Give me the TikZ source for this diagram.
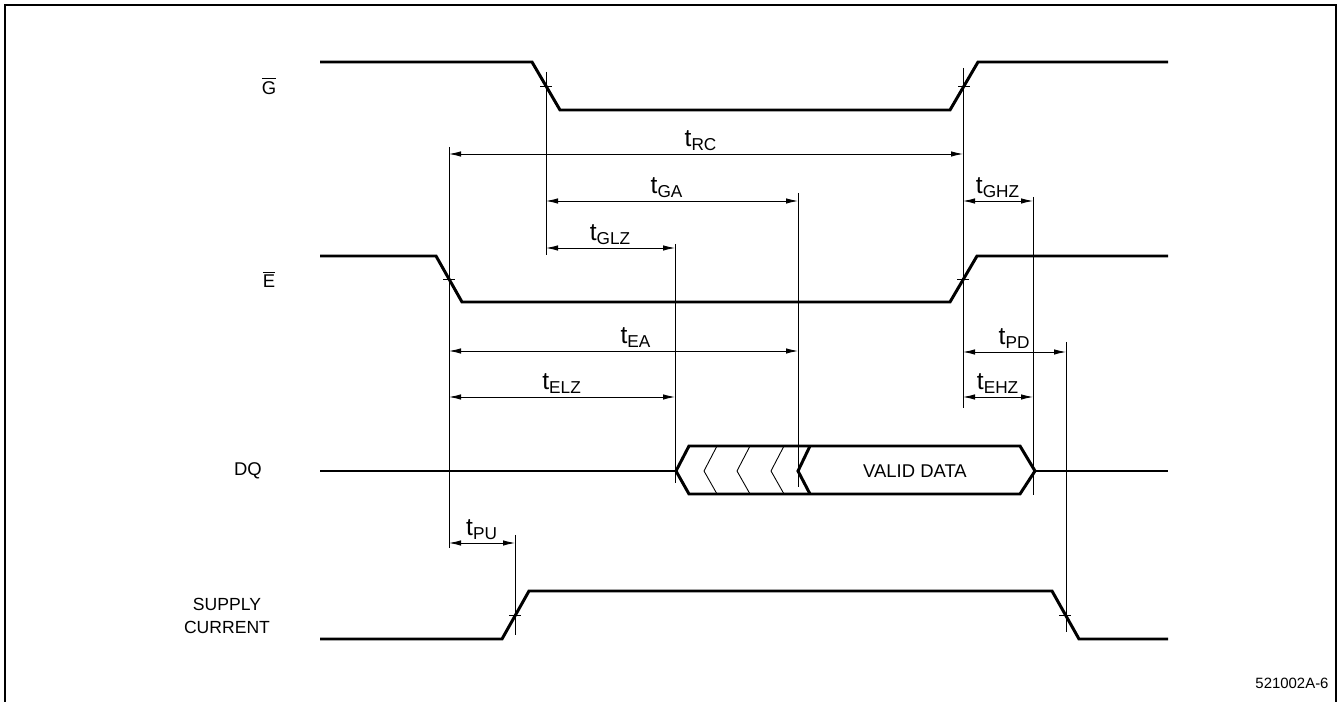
\documentclass[tikz,border=0pt]{standalone}
\usepackage{fontspec}
\setmainfont{Liberation Sans}
\usetikzlibrary{arrows.meta}
\tikzset{
	wave/.style={line width=1.7pt, line join=miter},
	guide/.style={line width=0.5pt},
	hatch/.style={line width=0.5pt},
	dimline/.style={line width=0.5pt, {Latex[length=2.4mm,width=1.1mm]}-{Latex[length=2.4mm,width=1.1mm]}},
	siglabel/.style={font=\fontsize{10.5}{12}\selectfont, inner sep=0pt},
	timelabel/.style={font=\fontsize{14}{16}\selectfont, above, inner sep=1.8pt}
}
\newcommand{\crossmark}[1]{\draw[guide] ($(#1)+(-6,0)$) -- ($(#1)+(6,0)$);}
\usetikzlibrary{calc}

\begin{document}
\begin{tikzpicture}[x=0.02cm,y=-0.02cm]
	\useasboundingbox (0,0) rectangle (1340,702);
	% frame
	\draw[line width=1pt] (5,702) -- (5,5) -- (1336,5) -- (1336,702);

	% signal names
	\node[siglabel] (gname) at (269,86) {$\overline{\mbox{G}}$};
	\node[siglabel] (ename) at (269,279) {$\overline{\mbox{E}}$};
	\node[siglabel] (dqname) at (248,471) {DQ};
	\node[siglabel, align=center, font=\fontsize{10}{12}\selectfont] (supname) at (227,616) {SUPPLY\\[1pt]CURRENT};

	% waveforms
	\draw[wave] (320,62) -- (532,62) -- (560,110) -- (950,110) -- (978,62) -- (1168,62);
	\draw[wave] (320,256) -- (436,256) -- (462,302) -- (950,302) -- (977,256) -- (1168,256);
	\draw[wave] (320,639) -- (502,639) -- (529,591) -- (1052,591) -- (1079,639) -- (1168,639);

	% DQ
	\draw[wave] (320,471) -- (676,471);
	\draw[wave] (676,471) -- (689,446) -- (1020,446) -- (1035,471) -- (1020,494) -- (689,494) -- cycle;
	\draw[wave] (1035,471) -- (1168,471);
	\draw[wave] (810,446) -- (798,471) -- (810,494);
	\foreach \x in {717,750,784}
		\draw[hatch] (\x,446) -- (\x-13,471) -- (\x,494);
	\node[siglabel] (valid) at (915,471) {VALID DATA};

	% guide lines
	\coordinate (gfallT) at (546,72);  \coordinate (gfallB) at (546,255);
	\coordinate (griseT) at (963,68);  \coordinate (griseB) at (963,408);
	\coordinate (efallT) at (449,147); \coordinate (efallB) at (449,548);
	\coordinate (glzT) at (675,244);   \coordinate (glzB) at (675,483);
	\coordinate (gaT) at (798,193);    \coordinate (gaB) at (798,487);
	\coordinate (ghzT) at (1033,197);  \coordinate (ghzB) at (1033,495);
	\coordinate (pdT) at (1066,342);   \coordinate (pdB) at (1066,632);
	\coordinate (puT) at (515,535);    \coordinate (puB) at (515,635);
	\foreach \g in {gfall,grise,efall,glz,ga,ghz,pd,pu}
		\draw[guide] (\g T) -- (\g B);

	% crossing marks
	\crossmark{546,86}
	\crossmark{964,86}
	\crossmark{449,279}
	\crossmark{963,279}
	\crossmark{515,615}
	\crossmark{1065,615}

	% timing arrows
	\coordinate (rcL) at (449,154);  \coordinate (rcR) at (963,154);
	\coordinate (gaL) at (546,201);  \coordinate (gaR) at (798,201);
	\coordinate (glzL) at (546,248); \coordinate (glzR) at (675,248);
	\coordinate (ghzL) at (963,201); \coordinate (ghzR) at (1033,201);
	\coordinate (eaL) at (449,351);  \coordinate (eaR) at (798,351);
	\coordinate (elzL) at (449,397); \coordinate (elzR) at (675,397);
	\coordinate (pdL) at (963,352);  \coordinate (pdR) at (1066,352);
	\coordinate (ehzL) at (963,397); \coordinate (ehzR) at (1033,397);
	\coordinate (puL) at (449,543);  \coordinate (puR) at (515,543);
	\draw[dimline] (rcL) -- node[timelabel, xshift=-0.1cm] {t\textsubscript{RC}} (rcR);
	\draw[dimline] (gaL) -- node[timelabel, xshift=-0.1cm] {t\textsubscript{GA}} (gaR);
	\draw[dimline] (glzL) -- node[timelabel] {t\textsubscript{GLZ}} (glzR);
	\draw[dimline] (ghzL) -- node[timelabel] {t\textsubscript{GHZ}} (ghzR);
	\draw[dimline] (eaL) -- node[timelabel, xshift=0.25cm] {t\textsubscript{EA}} (eaR);
	\draw[dimline] (elzL) -- node[timelabel] {t\textsubscript{ELZ}} (elzR);
	\draw[dimline] (pdL) -- node[timelabel] {t\textsubscript{PD}} (pdR);
	\draw[dimline] (ehzL) -- node[timelabel] {t\textsubscript{EHZ}} (ehzR);
	\draw[dimline] (puL) -- node[timelabel] {t\textsubscript{PU}} (puR);

	\node[font=\fontsize{8.5}{10}\selectfont] (figid) at (1292,683) {521002A-6};
\end{tikzpicture}
\end{document}
